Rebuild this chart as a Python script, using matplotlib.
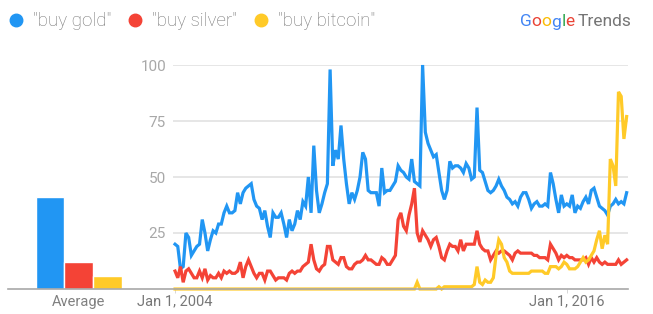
import numpy as np
import matplotlib
matplotlib.use("Agg")
import matplotlib.pyplot as plt
from matplotlib.lines import Line2D

plt.rcParams["font.family"] = ["Roboto", "DejaVu Sans"]

# Monthly Google Trends interest, Jan 2004 .. Nov 2017
buy_gold = [
    20, 19, 9, 10, 25, 23, 15, 17, 19, 20, 31, 25,
    17, 22, 26, 25, 29, 29, 34, 37, 34, 34, 35, 43,
    38, 43, 45, 46, 47, 40, 37, 36, 31, 35, 28, 23,
    34, 32, 32, 34, 29, 23, 31, 26, 29, 35, 31, 39,
    37, 50, 34, 64, 44, 34, 38, 43, 47, 98, 55, 62,
    58, 73, 58, 47, 38, 43, 40, 44, 50, 61, 58, 44,
    43, 43, 43, 37, 54, 43, 44, 44, 46, 48, 55, 53,
    52, 50, 49, 58, 48, 47, 46, 100, 70, 65, 62, 59,
    60, 52, 44, 40, 44, 57, 54, 55, 55, 54, 52, 56,
    54, 49, 50, 81, 53, 52, 48, 44, 43, 44, 46, 49,
    46, 44, 41, 40, 38, 39, 37, 41, 43, 43, 40, 36,
    38, 39, 37, 37, 38, 37, 52, 47, 40, 34, 42, 37,
    38, 37, 42, 34, 37, 36, 39, 41, 38, 44, 45, 41,
    37, 36, 35, 33, 37, 38, 40, 38, 39, 38, 43,
]
buy_silver = [
    8, 5, 10, 3, 8, 9, 7, 5, 5, 8, 5, 9,
    4, 6, 5, 5, 7, 5, 8, 7, 8, 7, 7, 8,
    12, 5, 10, 13, 10, 7, 5, 7, 7, 4, 8, 8,
    6, 4, 5, 5, 5, 4, 7, 8, 7, 8, 8, 10,
    11, 12, 20, 13, 9, 8, 10, 11, 19, 19, 13, 12,
    11, 14, 14, 10, 9, 9, 11, 12, 12, 13, 15, 13,
    13, 12, 11, 11, 14, 13, 11, 11, 13, 15, 31, 34,
    28, 26, 33, 38, 45, 25, 21, 26, 24, 22, 19, 22,
    23, 19, 14, 13, 17, 20, 19, 19, 17, 22, 17, 20,
    20, 20, 20, 26, 20, 18, 17, 17, 13, 15, 17, 16,
    17, 17, 16, 15, 13, 16, 17, 16, 16, 16, 16, 16,
    15, 15, 14, 14, 14, 13, 20, 18, 16, 13, 15, 14,
    15, 14, 14, 13, 13, 13, 13, 14, 11, 14, 12, 14,
    12, 11, 12, 11, 11, 11, 11, 13, 11, 12, 13,
]
buy_bitcoin = [0] * 89 + [
    3, 0, 0, 0, 0, 0, 0,
    0, 1, 0, 1, 1, 1, 1, 1, 1, 1, 1, 1,
    1, 1, 2, 10, 3, 2, 4, 3, 3, 5, 15, 22,
    20, 14, 12, 8, 7, 7, 7, 7, 7, 7, 7, 8,
    8, 8, 8, 8, 7, 7, 10, 10, 10, 9, 10, 12,
    11, 9, 9, 9, 10, 12, 14, 12, 13, 15, 17, 22,
    26, 18, 24, 20, 58, 55, 46, 88, 86, 67, 77,
]
averages = [41, 12, 6]

terms = ['"buy gold"', '"buy silver"', '"buy bitcoin"']
colors = ["#2196F3", "#F44336", "#FFCA28"]
tick_pos = [0, 144]
tick_labels = ["Jan 1, 2004", "Jan 1, 2016"]

W, H = 653, 314
fig = plt.figure(figsize=(W / 100, H / 100), dpi=100)


def fx(px):
    return px / W


def fy(py):
    return 1 - py / H


y0, y100 = 289, 65

# main time series axes
ax = fig.add_axes([fx(173), fy(y0), fx(628 - 173), (y0 - y100) / H])
months = np.arange(len(buy_gold))
for vals, col in zip([buy_gold, buy_silver, buy_bitcoin], colors):
    ax.plot(months, vals, color=col, lw=2.3, solid_joinstyle="miter",
            clip_on=False, zorder=3)
ax.set_ylim(0, 100)
ax.set_xlim(-0.75, 166.5)
ax.set_yticks([25, 50, 75, 100])
ax.set_yticklabels(["25", "50", "75", "100"])
ax.grid(axis="y", color="#e4e4e4", lw=1.3)
ax.set_xticks(tick_pos)
ax.set_xticklabels(tick_labels)
ax.tick_params(axis="y", length=0, pad=5, labelsize=11, labelcolor="#a8a8a8")
ax.tick_params(axis="x", length=3, width=0.6, color="#d0d0d0", pad=1,
               labelsize=10.5, labelcolor="#777777")
for s in ax.spines.values():
    s.set_visible(False)
ax.set_facecolor("none")

# average bars
bx = fig.add_axes([fx(35.5), fy(y0), fx(122 - 35.5), (y0 - y100) / H])
bx.bar([0, 1, 2], averages, width=1.0, color=colors, edgecolor="white",
       linewidth=1.0)
bx.set_xlim(-0.5, 2.5)
bx.set_ylim(0, 100)
bx.axis("off")
fig.text(fx(79), fy(302), "Average", ha="center", va="center",
         fontsize=10.5, color="#808080")

# baseline across both panels
fig.add_artist(Line2D([fx(8), fx(628)], [fy(289), fy(289)],
                      color="#a8a8a8", lw=1.2, zorder=1))

# legend along the top
leg_x = [16, 135, 261]
for x, term, col in zip(leg_x, terms, colors):
    fig.add_artist(Line2D([fx(x)], [fy(20)], marker="o", markersize=9,
                          color=col, linestyle="none"))
    fig.text(fx(x + 17), fy(21), term, ha="left", va="center",
             fontsize=13.5, color="#757575", fontweight="light")

# Google Trends logo
fig.canvas.draw()
renderer = fig.canvas.get_renderer()
logo_cols = ["#4285F4", "#EA4335", "#FBBC05", "#4285F4", "#34A853", "#EA4335"]
x = fx(520)
for ch, col in zip("Google", logo_cols):
    t = fig.text(x, fy(22), ch, ha="left", va="center", fontsize=12.5,
                 color=col)
    bb = t.get_window_extent(renderer)
    x = bb.x1 / W
fig.text(x + fx(3), fy(22), "Trends", ha="left", va="center",
         fontsize=12.5, color="#757575")

fig.savefig("out.png", dpi=100)
